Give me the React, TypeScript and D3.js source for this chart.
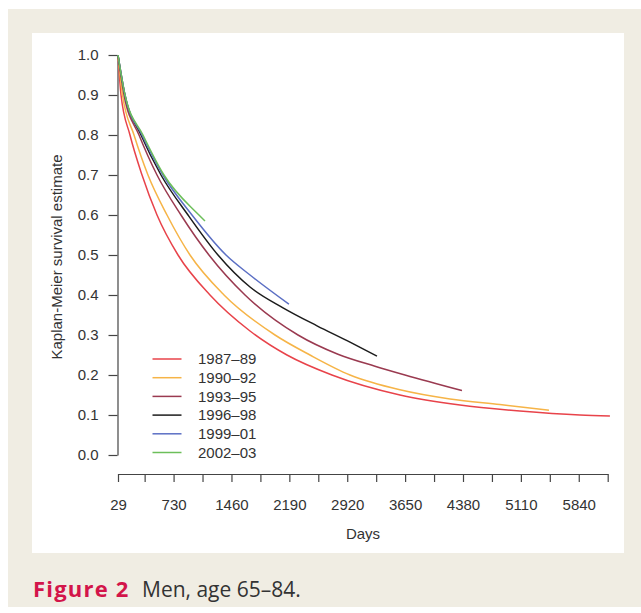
import * as d3 from "d3";
import { useRef, useEffect } from "react";

// Kaplan-Meier estimates (days since admission, survival)
const days8789 = [29, 67, 180, 332, 521, 786, 1189, 1694, 2160, 2727, 3585, 4342, 5098, 5855, 6233];
const surv8789 = [1.0, 0.9, 0.8, 0.7, 0.6, 0.5, 0.4, 0.31, 0.25, 0.2, 0.15, 0.125, 0.11, 0.1, 0.0975];
const days9092 = [29, 86, 231, 407, 647, 937, 1366, 2009, 2450, 2955, 3585, 4216, 4846, 5464];
const surv9092 = [1.0, 0.9, 0.8, 0.7, 0.6, 0.5, 0.4, 0.3, 0.25, 0.2, 0.163, 0.14, 0.126, 0.112];
const days9395 = [29, 105, 294, 521, 823, 1176, 1631, 2299, 2803, 3270, 3648, 4367];
const surv9395 = [1.0, 0.9, 0.8, 0.7, 0.6, 0.5, 0.4, 0.3, 0.252, 0.222, 0.2, 0.161];
const days9698 = [29, 117, 319, 571, 912, 1290, 1694, 2110, 2539, 2955, 3295];
const surv9698 = [1.0, 0.9, 0.8, 0.7, 0.6, 0.5, 0.42, 0.368, 0.323, 0.282, 0.247];
const days9901 = [29, 117, 332, 596, 962, 1391, 1694, 2185];
const surv9901 = [1.0, 0.9, 0.8, 0.7, 0.6, 0.5, 0.45, 0.377];
const days0203 = [29, 117, 344, 609, 1050, 1126];
const surv0203 = [1.0, 0.9, 0.8, 0.7, 0.6, 0.585];

const cohorts = ["1987–89", "1990–92", "1993–95", "1996–98", "1999–01", "2002–03"];
const colors = ["#e8434a", "#f6b447", "#9a3a50", "#1c1c1c", "#5b6fc4", "#6cbf5a"];

const xTicks = [29, 365, 730, 1095, 1460, 1825, 2190, 2555, 2920, 3285, 3650, 4015, 4380, 4745, 5110, 5475, 5840, 6205];
const xLabels = ["29", "730", "1460", "2190", "2920", "3650", "4380", "5110", "5840"];
const yTicks = [0, 0.1, 0.2, 0.3, 0.4, 0.5, 0.6, 0.7, 0.8, 0.9, 1.0];

const font = "'Liberation Sans', Arial, sans-serif";

export default function App() {
	const gx = useRef<SVGGElement>(null);
	const gy = useRef<SVGGElement>(null);

	const x = d3.scaleLinear([29, 6205], [118, 607.7]);
	const y = d3.scaleLinear([0, 1], [455, 55]);

	const series = [
		d3.zip(days8789, surv8789),
		d3.zip(days9092, surv9092),
		d3.zip(days9395, surv9395),
		d3.zip(days9698, surv9698),
		d3.zip(days9901, surv9901),
		d3.zip(days0203, surv0203),
	];

	const line = d3
		.line<number[]>()
		.x((d) => x(d[0]))
		.y((d) => y(d[1]))
		.curve(d3.curveMonotoneX);

	useEffect(() => {
		const g = d3.select(gx.current);
		g.call(
			d3
				.axisBottom(x)
				.tickValues(xTicks)
				.tickSize(8)
				.tickSizeOuter(0)
				.tickPadding(17)
				.tickFormat((d) => (xLabels.includes(String(d)) ? String(d) : ""))
		);
		g.attr("font-family", font).attr("font-size", 15);
		g.selectAll("path, line").attr("stroke", "#444").attr("stroke-width", 1.2);
		g.selectAll("text").attr("fill", "#333");
	}, []);

	useEffect(() => {
		const g = d3.select(gy.current);
		g.call(
			d3
				.axisLeft(y)
				.tickValues(yTicks)
				.tickSize(9)
				.tickSizeOuter(0)
				.tickPadding(10)
				.tickFormat(d3.format(".1f"))
		);
		g.attr("font-family", font).attr("font-size", 15);
		g.selectAll("path, line").attr("stroke", "#444").attr("stroke-width", 1.2);
		g.selectAll("text").attr("fill", "#333");
	}, []);

	return (
		<svg
			width={641}
			height={613}
			style={{ position: "absolute", left: 0, top: 0 }}
		>
			<rect x={8} y={9} width={633} height={598} fill="#f0ede3" />
			<rect x={32} y={33} width={592} height={520} fill="#fff" />

			<g ref={gy} transform="translate(117.5,0)" />
			<g ref={gx} transform="translate(0,474)" />

			<g fill="none" strokeWidth={1.5}>
				{series.map((s, i) => (
					<path key={cohorts[i]} d={line(s) ?? ""} stroke={colors[i]} />
				))}
			</g>

			<g fontFamily={font} fontSize={15} fill="#333">
				{cohorts.map((c, i) => (
					<g key={c} transform={`translate(0,${359 + i * 18.7})`}>
						<line x1={152.5} x2={181.5} stroke={colors[i]} strokeWidth={1.5} />
						<text x={198} dy="0.35em">
							{c}
						</text>
					</g>
				))}
				<text x={363} y={534} textAnchor="middle" dy="0.35em">
					Days
				</text>
				<text
					transform="translate(57,257) rotate(-90)"
					textAnchor="middle"
					dy="0.35em"
				>
					Kaplan-Meier survival estimate
				</text>
			</g>

			<text x={33} y={597} fontFamily="'Open Sans', sans-serif" fontSize={21}>
				<tspan fontWeight="bold" fill="#d3154a" fontSize={22} letterSpacing={1.2}>
					Figure 2
				</tspan>
				<tspan x={142} fill="#333">
					Men, age 65–84.
				</tspan>
			</text>
		</svg>
	);
}
